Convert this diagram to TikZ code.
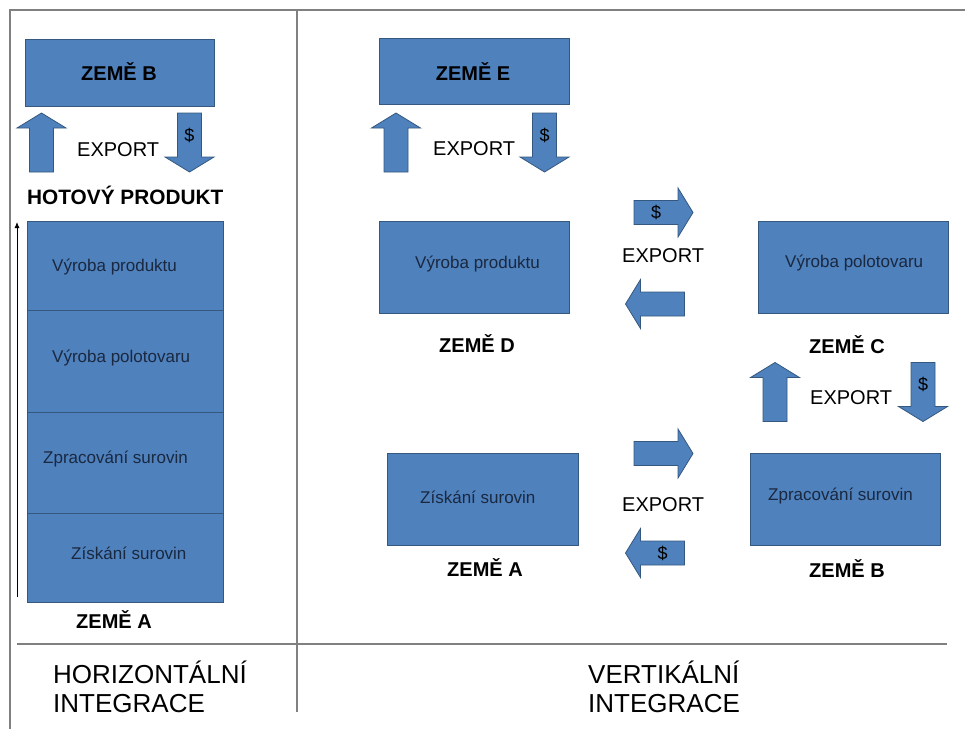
\documentclass[tikz,border=0pt]{standalone}
\usepackage{fontspec}
\setmainfont{Liberation Sans}
\usetikzlibrary{arrows.meta}
\definecolor{boxblue}{HTML}{4F81BD}
\definecolor{boxedge}{HTML}{34587F}
\definecolor{framegray}{HTML}{808080}
\definecolor{boxtext}{HTML}{1A2840}
\begin{document}
\begin{tikzpicture}[x=1pt,y=-1pt,
  box/.style={draw=boxedge, fill=boxblue, line width=1.2pt, rectangle, inner sep=0pt, anchor=north west},
  barrow/.style={draw=boxedge, fill=boxblue, line width=0.8pt},
  frameline/.style={draw=framegray, line width=2pt},
  lbl/.style={font=\fontsize{20}{24}\selectfont, inner sep=0pt, anchor=base west},
  zeme/.style={font=\fontsize{20}{24}\selectfont\bfseries, inner sep=0pt, anchor=base},
  boxtxt/.style={font=\fontsize{17}{20}\selectfont, text=boxtext, inner sep=0pt, anchor=base west},
  big/.style={font=\fontsize{26}{30}\selectfont, inner sep=0pt, anchor=base west},
  dollar/.style={font=\fontsize{18}{20}\selectfont, inner sep=0pt},
  blockarrow/.pic={\path[barrow] (-29.5,-12) -- (14.5,-12) -- (14.5,-24.5) -- (29.5,0) -- (14.5,24.5) -- (14.5,12) -- (-29.5,12) -- cycle; \coordinate (-c) at (0,0);},
  blockarrowd/.pic={\path[barrow] (-29.5,-12) -- (14.5,-12) -- (14.5,-24.5) -- (29.5,0) -- (14.5,24.5) -- (14.5,12) -- (-29.5,12) -- cycle; \node[dollar] (-d) at (-7.5,0) {\$};}
]
\useasboundingbox (0,0) rectangle (965,729);

% frame
\coordinate (fl1) at (10,10); \coordinate (fl2) at (10,729);
\coordinate (ft2) at (965,10);
\coordinate (fd1) at (297,10); \coordinate (fd2) at (297,712);
\coordinate (fh1) at (17,644); \coordinate (fh2) at (947,644);
\draw[frameline] (fl2) -- (fl1) -- (ft2);
\draw[frameline] (fd1) -- (fd2);
\draw[frameline] (fh1) -- (fh2);

% ---------- left: horizontal integration ----------
\node[box, minimum width=189pt, minimum height=67pt] (lzb) at (25,39) {};
\node[zeme] (lzbt) at (119,80) {ZEMĚ B};
\pic (lup) at (41.5,142.5) [rotate=90] {blockarrow};
\pic (ldn) at (189.5,142.5) [rotate=-90] {blockarrowd};
\node[lbl] (lexp) at (77,156) {EXPORT};
\node[zeme, anchor=base west, font=\fontsize{20.8}{24}\selectfont\bfseries] (hp) at (27,204) {HOTOVÝ PRODUKT};

\node[box, minimum width=196pt, minimum height=89pt] (s1) at (27,221) {};
\node[box, minimum width=196pt, minimum height=102pt] (s2) at (27,310) {};
\node[box, minimum width=196pt, minimum height=101pt] (s3) at (27,412) {};
\node[box, minimum width=196pt, minimum height=89pt] (s4) at (27,513) {};
\node[boxtxt] (s1t) at (52,271) {Výroba produktu};
\node[boxtxt] (s2t) at (52,362) {Výroba polotovaru};
\node[boxtxt] (s3t) at (43,463) {Zpracování surovin};
\node[boxtxt] (s4t) at (71,559) {Získání surovin};
\coordinate (tb) at (17,597); \coordinate (tt) at (17,222);
\draw[-{Latex[length=6pt,width=5pt]}, line width=0.8pt] (tb) -- (tt);
\node[zeme] (lza) at (114,628) {ZEMĚ A};

\node[big] (h1) at (53,683) {HORIZONTÁLNÍ};
\node[big] (h2) at (53,712) {INTEGRACE};

% ---------- right: vertical integration ----------
\node[box, minimum width=190pt, minimum height=66pt] (ze) at (379,38) {};
\node[zeme] (zet) at (473,80) {ZEMĚ E};
\pic (eup) at (396,142.5) [rotate=90] {blockarrow};
\pic (edn) at (544.5,142.5) [rotate=-90] {blockarrowd};
\node[lbl] (eexp) at (433,155) {EXPORT};

\node[box, minimum width=190pt, minimum height=92pt] (zd) at (379,221) {};
\node[boxtxt] (zdt) at (415,268) {Výroba produktu};
\node[zeme] (zdl) at (477,352) {ZEMĚ D};

\pic (dcr) at (663.5,212.5) {blockarrowd};
\node[lbl] (dcexp) at (622,262) {EXPORT};
\pic (dcl) at (655,304) [rotate=180] {blockarrow};

\node[box, minimum width=190pt, minimum height=92pt] (zc) at (758,221) {};
\node[boxtxt] (zct) at (785,267) {Výroba polotovaru};
\node[zeme] (zcl) at (847,353) {ZEMĚ C};

\pic (cup) at (775,392) [rotate=90] {blockarrow};
\pic (cdn) at (923,392) [rotate=-90] {blockarrowd};
\node[lbl] (cexp) at (810,404) {EXPORT};

\node[box, minimum width=191pt, minimum height=92pt] (za) at (387,453) {};
\node[boxtxt] (zat) at (420,503) {Získání surovin};
\node[zeme] (zal) at (485,576) {ZEMĚ A};

\pic (abr) at (663.5,453.5) {blockarrow};
\node[lbl] (abexp) at (622,511) {EXPORT};
\pic (abl) at (655,553) [rotate=180] {blockarrowd};

\node[box, minimum width=190pt, minimum height=92pt] (zbr) at (750,453) {};
\node[boxtxt] (zbrt) at (768,500) {Zpracování surovin};
\node[zeme] (zbl) at (847,577) {ZEMĚ B};

\node[big] (v1) at (588,683) {VERTIKÁLNÍ};
\node[big] (v2) at (588,712) {INTEGRACE};
\end{tikzpicture}
\end{document}
